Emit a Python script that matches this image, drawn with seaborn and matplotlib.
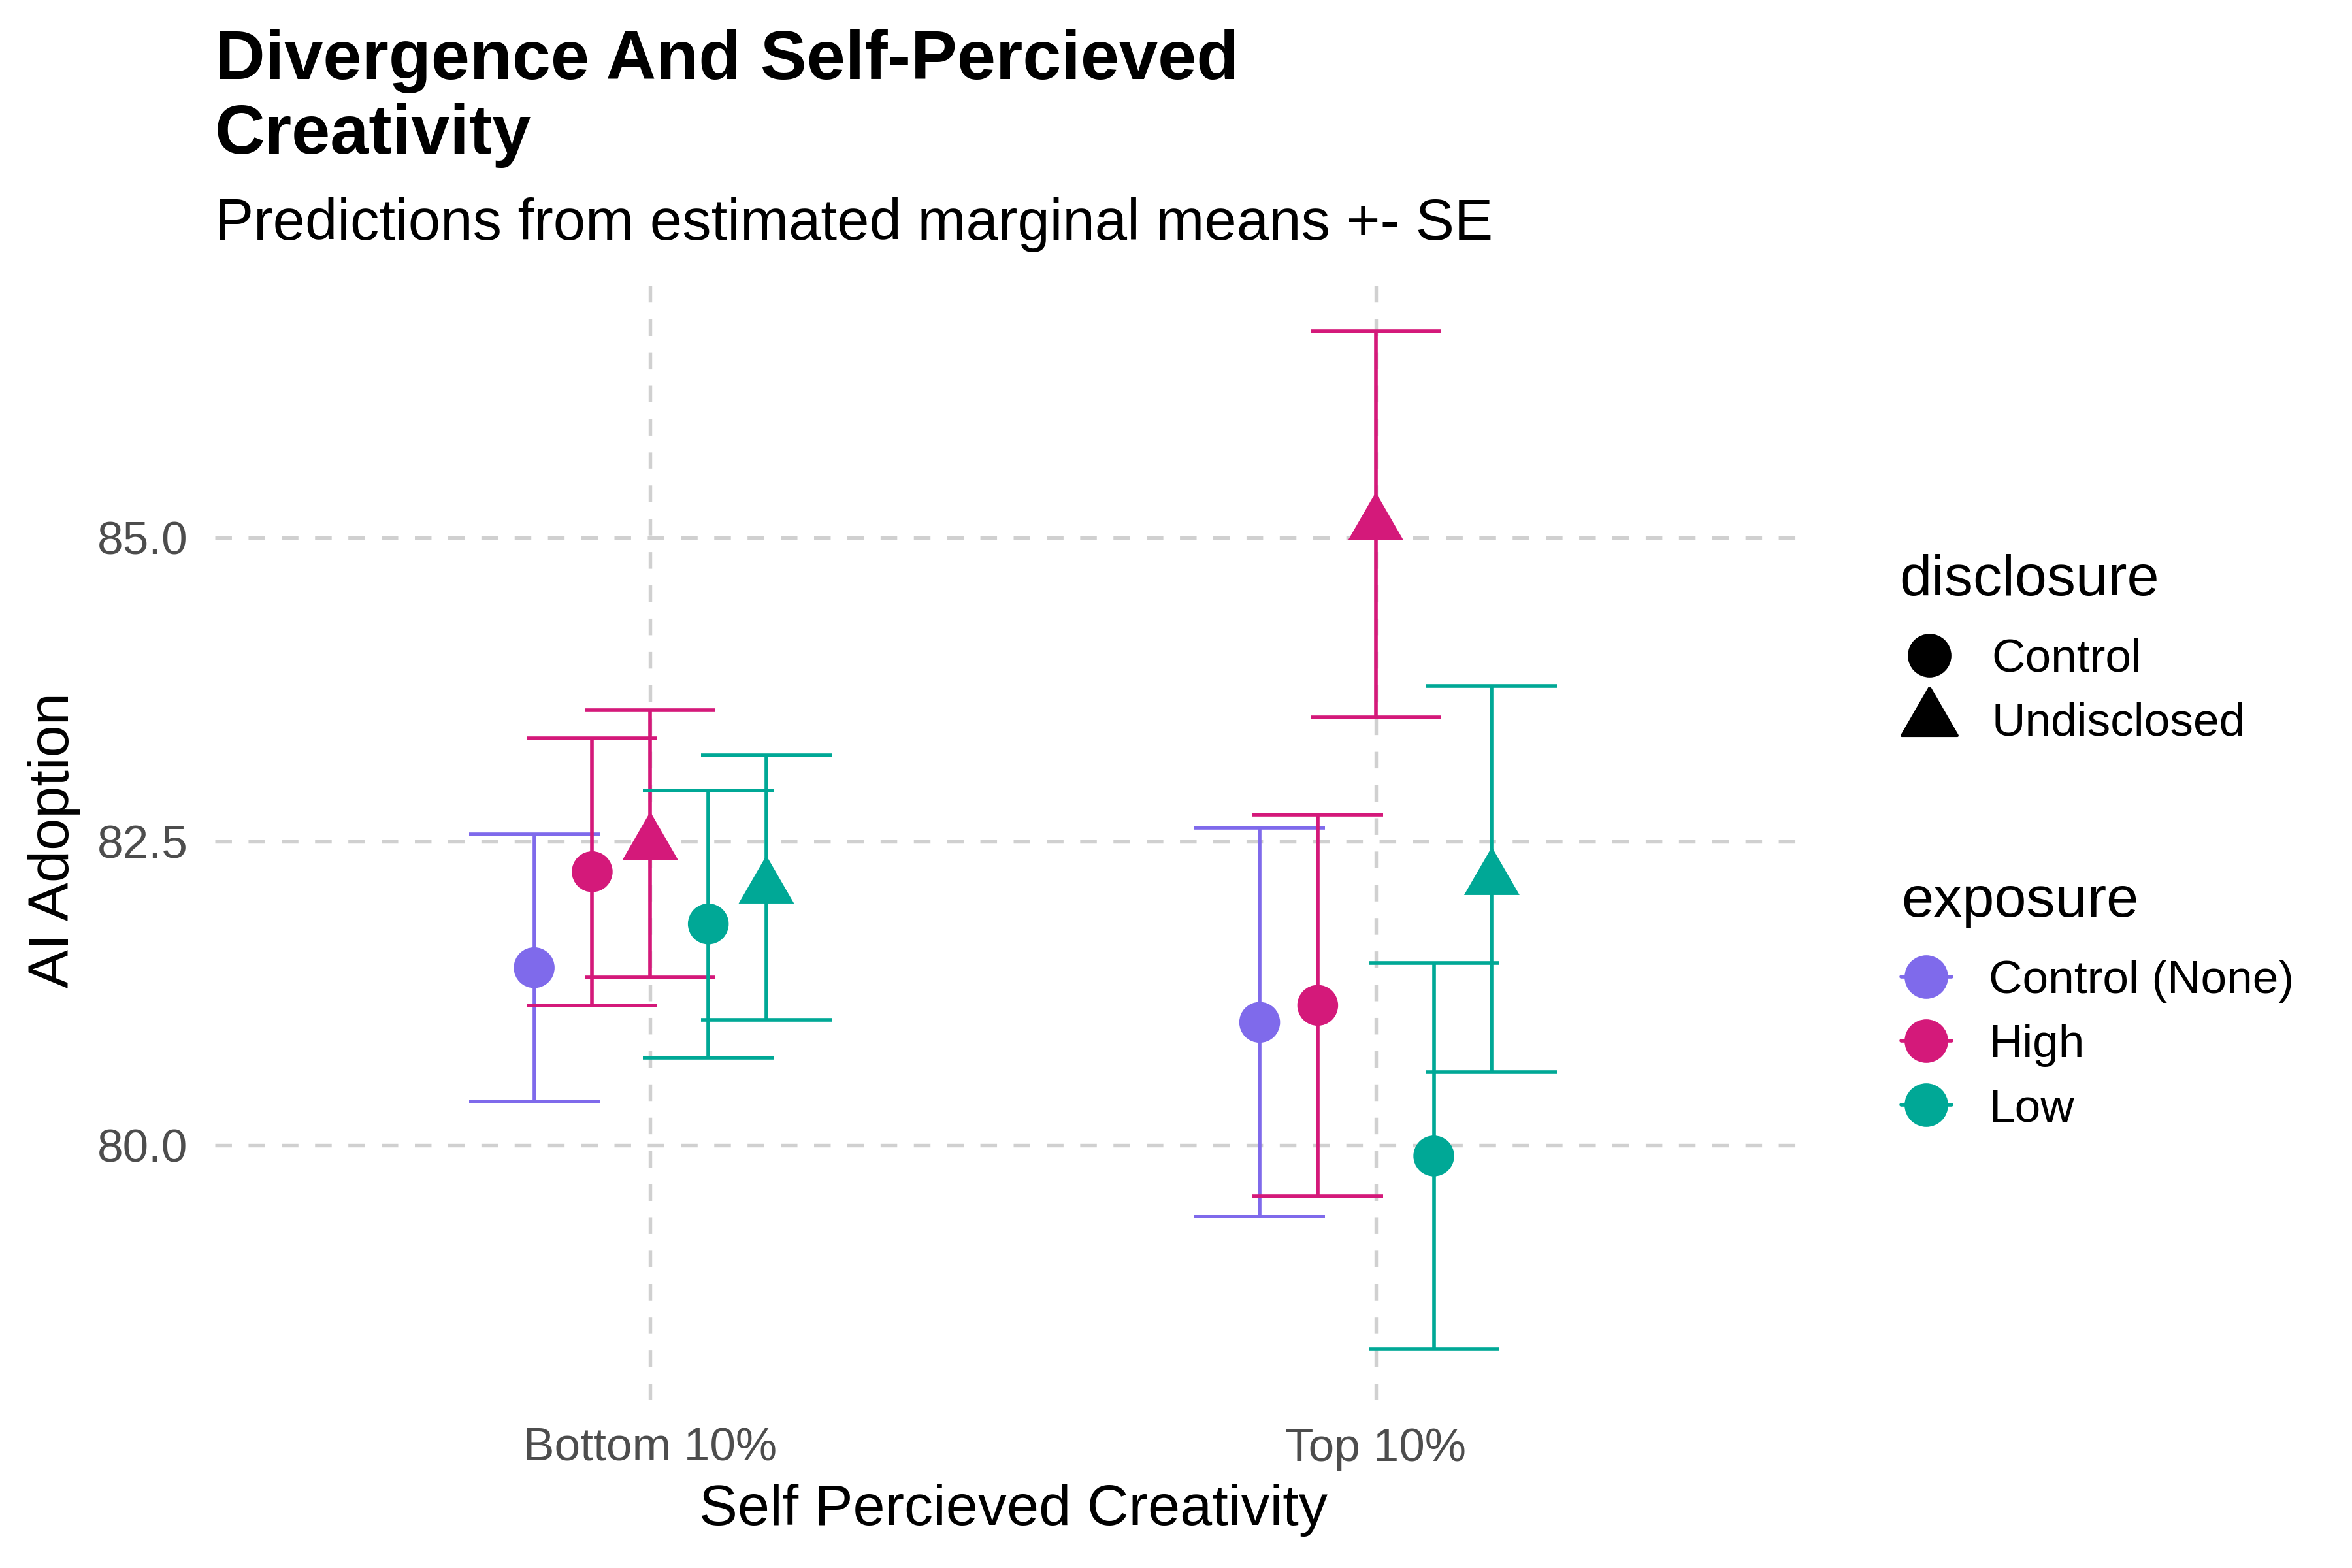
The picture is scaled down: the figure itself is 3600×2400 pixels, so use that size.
import numpy as np
import pandas as pd
import matplotlib
matplotlib.use("Agg")
import matplotlib.pyplot as plt
from matplotlib.lines import Line2D
import seaborn as sns

# estimated marginal means +- SE
creativity = ["Bottom 10%", "Top 10%"]
exposure = ["Control (None)", "High", "High", "Low", "Low"]
disclosure = ["Control", "Control", "Undisclosed", "Control", "Undisclosed"]
bottom_est = [81.46, 82.25, 82.48, 81.82, 82.12]
bottom_se = [1.10, 1.10, 1.10, 1.10, 1.09]
top_est = [81.01, 81.15, 85.11, 79.91, 82.19]
top_se = [1.60, 1.57, 1.59, 1.59, 1.59]

exposure_levels = ["Control (None)", "High", "Low"]
exposure_colors = {"Control (None)": "#7F6AEB", "High": "#D4197A", "Low": "#00A896"}

# R-like filled triangle (pch 17), centred on its centroid
tri = [(0, 1.555), (1.347, -0.778), (-1.347, -0.778), (0, 1.555)]

rows = []
for i, (est, se) in enumerate([(bottom_est, bottom_se), (top_est, top_se)]):
    for j in range(len(exposure)):
        rows.append({"creativity": creativity[i], "exposure": exposure[j], "disclosure": disclosure[j],
                     "estimate": est[j], "se": se[j], "xpos": i + (j - 2) * 0.08})
df = pd.DataFrame(rows)

sns.set_theme(style="white")
plt.rcParams['font.family'] = ['Liberation Sans', 'DejaVu Sans']
plt.rcParams['text.color'] = 'black'
plt.rcParams['axes.labelcolor'] = 'black'

fig = plt.figure(figsize=(12, 8), dpi=300)
ax = fig.add_axes([0.0914, 0.1071, 0.6786, 0.7142])

# error bars first, points on top
for _, r in df.iterrows():
    ax.errorbar(r["xpos"], r["estimate"], yerr=r["se"], fmt="none", ecolor=exposure_colors[r["exposure"]],
                elinewidth=1.35, capsize=24, capthick=1.35, zorder=2)

sns.scatterplot(data=df, x="xpos", y="estimate", hue="exposure", style="disclosure",
                size="disclosure", sizes={"Control": 225, "Undisclosed": 553},
                markers={"Control": "o", "Undisclosed": tri}, palette=exposure_colors,
                hue_order=exposure_levels, linewidth=0, legend=False, ax=ax, zorder=3)

lo = (df["estimate"] - df["se"]).min()
hi = (df["estimate"] + df["se"]).max()
pad = (hi - lo) * 0.05
ax.set_ylim(lo - pad, hi + pad)
ax.set_xlim(-0.6, 1.6)
ax.set_xticks(range(len(creativity)))
ax.set_xticklabels(creativity)
ax.set_yticks([80.0, 82.5, 85.0])
ax.set_yticklabels([f"{v:.1f}" for v in [80.0, 82.5, 85.0]])
ax.tick_params(axis="both", length=0, pad=10, labelsize=17.1, labelcolor="#4D4D4D")
ax.grid(True, color="#D0D0D0", linestyle=(0, (4.7, 4.7)), linewidth=1.3)
ax.set_axisbelow(True)
for s in ax.spines.values():
    s.set_visible(False)

ax.set_xlabel("Self Percieved Creativity", fontsize=21.2, labelpad=5)
ax.set_ylabel("AI Adoption", fontsize=21.2, labelpad=6)

fig.text(0.0914, 1 - 235 / 2400, "Divergence And Self-Percieved\nCreativity", fontsize=25.5,
         fontweight="bold", ha="left", va="baseline", linespacing=1.2)
fig.text(0.0914, 0.8471, "Predictions from estimated marginal means +- SE", fontsize=21.3,
         ha="left", va="baseline")

# legends
shape_handles = [Line2D([], [], marker="o", markersize=15, color="black", linestyle="None"),
                 Line2D([], [], marker=tri, markersize=23.5, color="black", linestyle="None")]
leg1 = fig.legend(shape_handles, ["Control", "Undisclosed"], title="disclosure", loc="upper left",
                  bbox_to_anchor=(2907 / 3600, 1 - 848 / 2400), frameon=False, fontsize=17.1,
                  title_fontsize=21.2, handlelength=1.29, handletextpad=0.69, labelspacing=0.45,
                  borderpad=0, borderaxespad=0, alignment="left")
leg1._legend_box.sep = 11.5
color_handles = [Line2D([], [], marker="o", markersize=15, color=exposure_colors[e], linewidth=1.35)
                 for e in exposure_levels]
leg2 = fig.legend(color_handles, exposure_levels, title="exposure", loc="upper left",
                  bbox_to_anchor=(2910 / 3600, 1 - 1340 / 2400), frameon=False, fontsize=17.1,
                  title_fontsize=21.2, handlelength=1.08, handletextpad=0.8, labelspacing=0.45,
                  borderpad=0, borderaxespad=0, alignment="left")
leg2._legend_box.sep = 11.5

fig.savefig("out.png", dpi=300)
